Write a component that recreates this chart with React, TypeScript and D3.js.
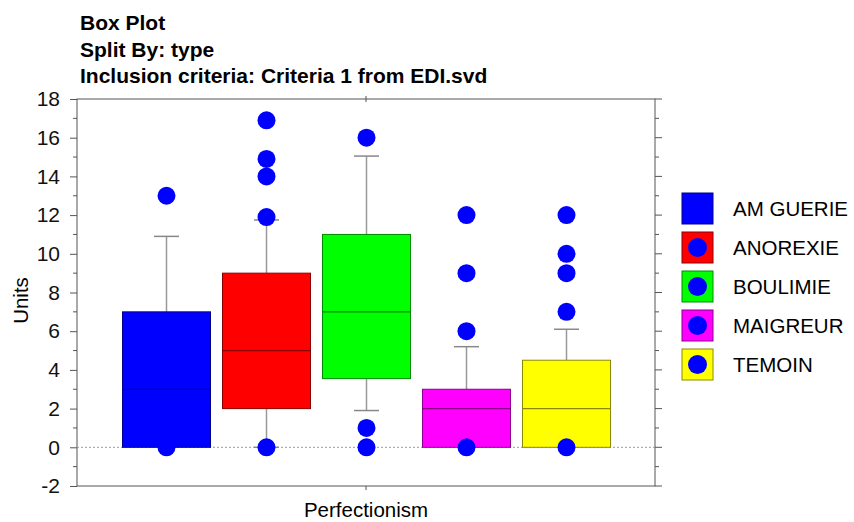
import React, { useEffect, useRef } from "react";
import * as d3 from "d3";

const categories = ["AM GUERIE", "ANOREXIE", "BOULIMIE", "MAIGREUR", "TEMOIN"];
const colors = ["#0000ff", "#ff0000", "#00ff00", "#ff00ff", "#ffff00"];
const strokes = ["#00008a", "#8a0000", "#008a00", "#8a008a", "#8a8a00"];
const q1 = [0, 2, 3.55, 0, 0];
const medians = [3, 5, 7, 2, 2];
const q3 = [7, 9, 11, 3, 4.5];
const whiskerLow = [0, 0, 1.9, 0, 0];
const whiskerHigh = [10.9, 11.75, 15.05, 5.2, 6.1];
const outliers = [
  [13, 0],
  [16.9, 14.9, 14, 11.9, 0],
  [16, 1, 0],
  [12, 9, 6, 0],
  [12, 10, 9, 7, 0],
];
const yTicks = [-2, 0, 2, 4, 6, 8, 10, 12, 14, 16, 18];
const titleLines = ["Box Plot", "Split By: type", "Inclusion criteria: Criteria 1 from EDI.svd"];

const W = 854;
const H = 522;
const font = "'Liberation Sans', Arial, sans-serif";

export default function App() {
  const ref = useRef<SVGSVGElement>(null);

  useEffect(() => {
    const svg = d3.select(ref.current);
    svg.selectAll("*").remove();

    const left = 77, right = 655, top = 99, bottom = 486;
    const y = d3.scaleLinear().domain([-2, 18]).range([bottom, top]);
    const x = d3.scaleBand().domain(categories).range([116.5, 616.5]).paddingInner(0.12).paddingOuter(0.06);
    const cx = (c: string) => (x(c) as number) + x.bandwidth() / 2;

    // titles
    svg.selectAll("text.title").data(titleLines).enter().append("text")
      .attr("x", 80).attr("y", (d, i) => 30 + i * 26.5)
      .style("font-family", font).style("font-weight", "bold").style("font-size", "21px")
      .text(d => d);

    // frame
    svg.append("rect").attr("x", left).attr("y", top).attr("width", right - left).attr("height", bottom - top)
      .attr("fill", "none").attr("stroke", "#555").attr("stroke-width", 1);

    // left axis
    const yAxis = d3.axisLeft(y).tickValues(yTicks).tickSize(7).tickPadding(10).tickFormat(d => String(d));
    const ga = svg.append("g").attr("transform", `translate(${left},0)`).call(yAxis);
    ga.select(".domain").remove();
    ga.selectAll("line").attr("stroke", "#555");
    ga.selectAll("text").style("font-family", font).style("font-size", "21px").attr("fill", "#111");
    const minor = d3.range(-1, 18, 2);
    svg.append("g").selectAll("line").data(minor).enter().append("line")
      .attr("x1", left - 4).attr("x2", left).attr("y1", d => y(d)).attr("y2", d => y(d)).attr("stroke", "#555");

    // right axis ticks
    svg.append("g").selectAll("line").data(yTicks).enter().append("line")
      .attr("x1", right).attr("x2", right + 7).attr("y1", d => y(d)).attr("y2", d => y(d)).attr("stroke", "#555");
    svg.append("g").selectAll("line").data(minor).enter().append("line")
      .attr("x1", right).attr("x2", right + 4).attr("y1", d => y(d)).attr("y2", d => y(d)).attr("stroke", "#555");

    // top/bottom center ticks
    const mid = (left + right) / 2;
    svg.append("line").attr("x1", mid).attr("x2", mid).attr("y1", top - 3).attr("y2", top + 3).attr("stroke", "#555");
    svg.append("line").attr("x1", mid).attr("x2", mid).attr("y1", bottom).attr("y2", bottom + 4).attr("stroke", "#555");

    // zero line
    svg.append("line").attr("x1", left).attr("x2", right).attr("y1", y(0)).attr("y2", y(0))
      .attr("stroke", "#999").attr("stroke-dasharray", "2,2");

    // boxes, whiskers, outliers
    const cap = 25;
    categories.forEach((c, i) => {
      const g = svg.append("g");
      const xc = cx(c);
      if (whiskerHigh[i] > q3[i]) {
        g.append("line").attr("x1", xc).attr("x2", xc).attr("y1", y(q3[i])).attr("y2", y(whiskerHigh[i])).attr("stroke", "#999").attr("stroke-width", 1.5);
        g.append("line").attr("x1", xc - cap / 2).attr("x2", xc + cap / 2).attr("y1", y(whiskerHigh[i])).attr("y2", y(whiskerHigh[i])).attr("stroke", "#888").attr("stroke-width", 1.5);
      }
      if (whiskerLow[i] < q1[i]) {
        g.append("line").attr("x1", xc).attr("x2", xc).attr("y1", y(q1[i])).attr("y2", y(whiskerLow[i])).attr("stroke", "#999").attr("stroke-width", 1.5);
        g.append("line").attr("x1", xc - cap / 2).attr("x2", xc + cap / 2).attr("y1", y(whiskerLow[i])).attr("y2", y(whiskerLow[i])).attr("stroke", "#888").attr("stroke-width", 1.5);
      }
      g.append("rect").attr("x", x(c) as number).attr("width", x.bandwidth())
        .attr("y", y(q3[i])).attr("height", y(q1[i]) - y(q3[i]))
        .attr("fill", colors[i]).attr("stroke", strokes[i]).attr("stroke-width", 1);
      g.append("line").attr("x1", x(c) as number).attr("x2", (x(c) as number) + x.bandwidth())
        .attr("y1", y(medians[i])).attr("y2", y(medians[i])).attr("stroke", strokes[i]).attr("stroke-width", 1.2);
      g.selectAll("circle").data(outliers[i]).enter().append("circle")
        .attr("cx", xc).attr("cy", d => y(d)).attr("r", 9).attr("fill", "#0000ff");
    });

    // axis labels
    svg.append("text").attr("transform", `translate(28,${(top + bottom) / 2 + 8}) rotate(-90)`)
      .attr("text-anchor", "middle").style("font-family", font).style("font-size", "20.5px").text("Units");
    svg.append("text").attr("x", mid).attr("y", 517).attr("text-anchor", "middle")
      .style("font-family", font).style("font-size", "20.5px").text("Perfectionism");

    // legend
    const lg = svg.append("g").attr("transform", "translate(682,193)");
    const items = lg.selectAll("g").data(categories).enter().append("g")
      .attr("transform", (d, i) => `translate(0,${i * 39})`);
    items.append("rect").attr("width", 31).attr("height", 31)
      .attr("fill", (d, i) => colors[i]).attr("stroke", (d, i) => strokes[i]);
    items.append("circle").attr("cx", 15.5).attr("cy", 15.5).attr("r", 9.5).attr("fill", "#0000ff");
    items.append("text").attr("x", 51).attr("y", 23).style("font-family", font).style("font-size", "20.5px")
      .text(d => d);
  }, []);

  return (
    <svg ref={ref} width={W} height={H} style={{ position: "absolute", left: 0, top: 0, background: "#fff" }} />
  );
}
